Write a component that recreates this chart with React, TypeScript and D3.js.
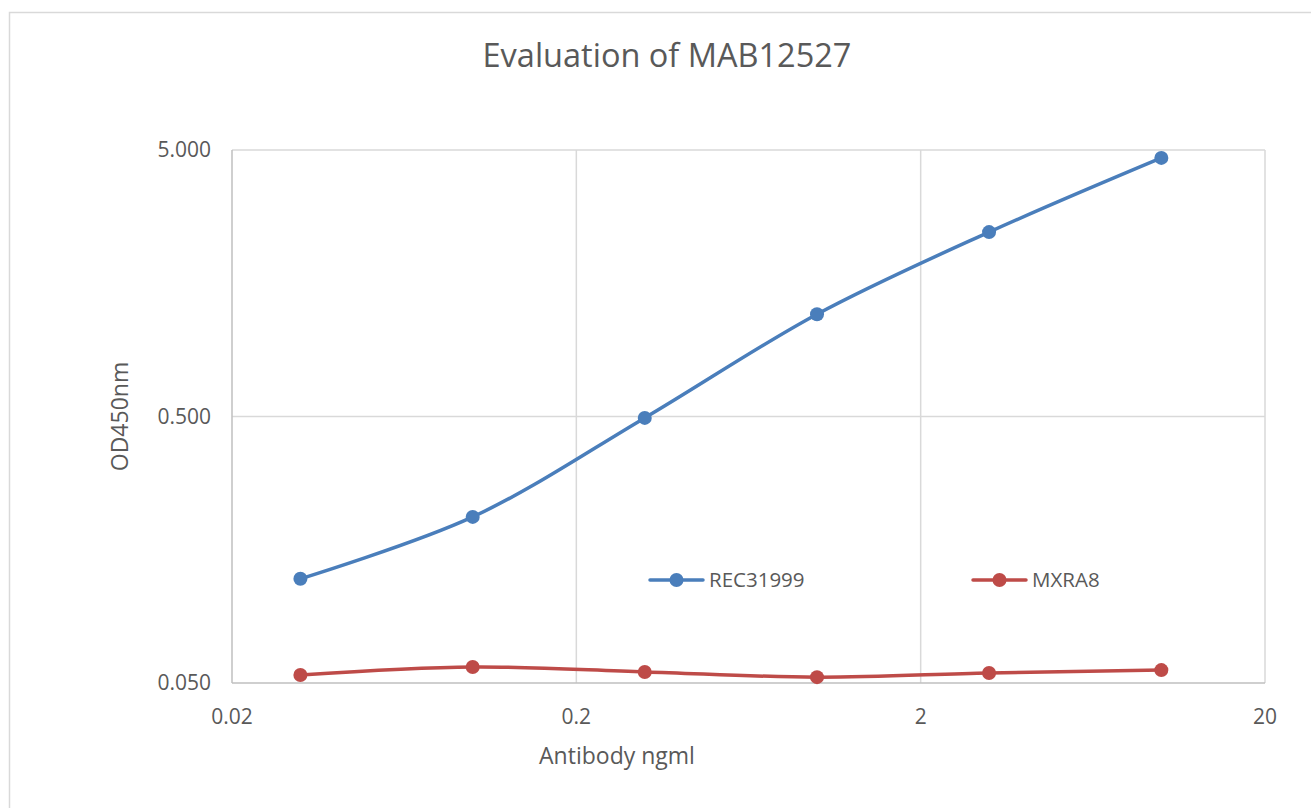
import React from 'react';
import * as d3 from 'd3';

const concentrations = [0.0316, 0.1, 0.316, 1, 3.16, 10];
const rec31999 = [0.123, 0.21, 0.494, 1.21, 2.46, 4.67];
const mxra8 = [0.0536, 0.0574, 0.055, 0.0526, 0.0545, 0.0559];
const xTicks = [0.02, 0.2, 2, 20];
const yTicks = [0.05, 0.5, 5];

const seriesList = [
  { name: 'REC31999', values: rec31999, color: '#4a7ebb', legendX: 650 },
  { name: 'MXRA8', values: mxra8, color: '#be4b48', legendX: 973 },
];

const W = 1311;
const H = 808;
const plot = { left: 232, right: 1265, top: 150, bottom: 683 };
const font = '"Open Sans", "Noto Sans", sans-serif';
const textColor = '#595959';

export default function App() {
  const x = d3.scaleLog().domain([0.02, 20]).range([plot.left, plot.right]);
  const y = d3.scaleLog().domain([0.05, 5]).range([plot.bottom, plot.top]);

  const line = d3
    .line<number>()
    .x((d, i) => x(concentrations[i]))
    .y((d) => y(d))
    .curve(d3.curveCatmullRom.alpha(0.5));

  return (
    <svg width={W} height={H} style={{ display: 'block', position: 'absolute', left: 0, top: 0 }}>
      <rect x={0} y={0} width={W} height={H} fill="#fff" />
      {/* chart area border */}
      <rect x={9.5} y={12.5} width={W + 10} height={H + 10} fill="none" stroke="#d9d9d9" strokeWidth={1.5} />

      <text x={667} y={67} textAnchor="middle" fontFamily={font} fontSize={32.5} fill={textColor}>
        Evaluation of MAB12527
      </text>

      {/* gridlines */}
      <g stroke="#d9d9d9" strokeWidth={1.5}>
        {yTicks.slice(1).map((t) => (
          <line key={'gy' + t} x1={plot.left} x2={plot.right} y1={y(t)} y2={y(t)} />
        ))}
        {xTicks.slice(1).map((t) => (
          <line key={'gx' + t} x1={x(t)} x2={x(t)} y1={plot.top} y2={plot.bottom} />
        ))}
      </g>

      {/* axes */}
      <g stroke="#bfbfbf" strokeWidth={1.5}>
        <line x1={plot.left} x2={plot.left} y1={plot.top} y2={plot.bottom} />
        <line x1={plot.left} x2={plot.right} y1={plot.bottom} y2={plot.bottom} />
      </g>

      <g fontFamily={font} fontSize={21} fill={textColor}>
        {yTicks.map((t) => (
          <text key={'ty' + t} x={211} y={y(t)} dy="0.35em" textAnchor="end">
            {d3.format('.3f')(t)}
          </text>
        ))}
        {xTicks.map((t) => (
          <text key={'tx' + t} x={x(t)} y={717} dy="0.35em" textAnchor="middle">
            {String(t)}
          </text>
        ))}
      </g>

      <text x={617} y={756} dy="0.35em" textAnchor="middle" fontFamily={font} fontSize={23} fill={textColor}>
        Antibody ngml
      </text>
      <text
        transform={`translate(120,${(plot.top + plot.bottom) / 2}) rotate(-90)`}
        dy="0.35em"
        textAnchor="middle"
        fontFamily={font}
        fontSize={23}
        fill={textColor}
      >
        OD450nm
      </text>

      {seriesList.map((s) => (
        <g key={s.name}>
          <path d={line(s.values) || ''} fill="none" stroke={s.color} strokeWidth={3.5} strokeLinecap="round" />
          {s.values.map((v, i) => (
            <circle key={i} cx={x(concentrations[i])} cy={y(v)} r={7} fill={s.color} />
          ))}
          <line x1={s.legendX} x2={s.legendX + 53} y1={580} y2={580} stroke={s.color} strokeWidth={3.5} strokeLinecap="round" />
          <circle cx={s.legendX + 26.5} cy={580} r={7} fill={s.color} />
          <text x={s.legendX + 59} y={580} dy="0.35em" fontFamily={font} fontSize={20.5} fill={textColor}>
            {s.name}
          </text>
        </g>
      ))}
    </svg>
  );
}
